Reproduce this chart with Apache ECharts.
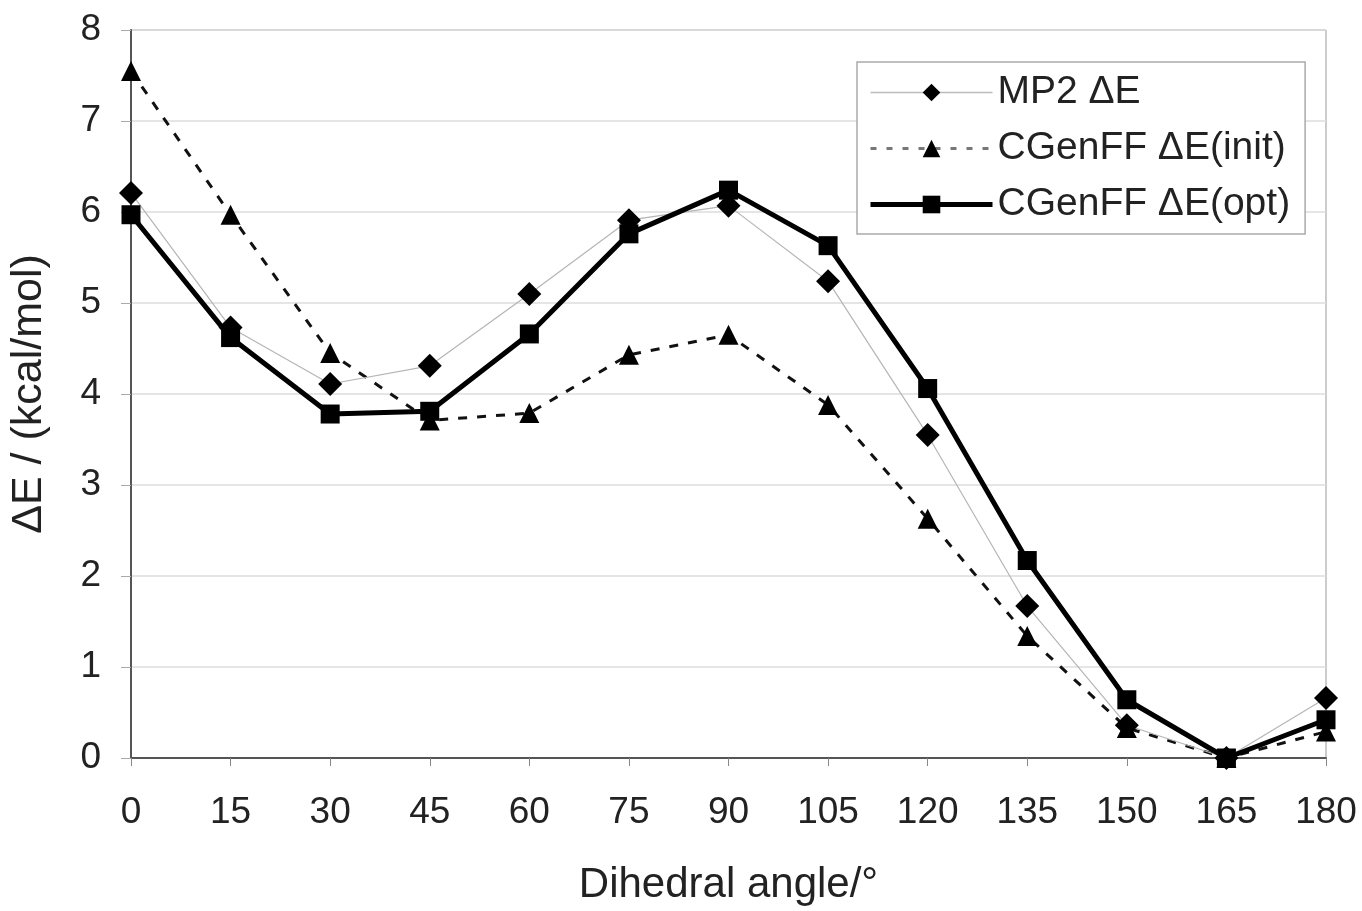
<!DOCTYPE html>
<html>
<head>
<meta charset="utf-8">
<script src="https://cdn.jsdelivr.net/npm/echarts@6/dist/echarts.min.js"></script>
<style>html,body{margin:0;padding:0;background:#fff}#chart{width:1362px;height:911px}</style>
</head>
<body>
<div id="chart"></div>
<script>
const angles = [0, 15, 30, 45, 60, 75, 90, 105, 120, 135, 150, 165, 180];
const mp2 = [6.21, 4.73, 4.11, 4.31, 5.10, 5.91, 6.07, 5.24, 3.55, 1.67, 0.36, 0.0, 0.66];
const cgenInit = [7.55, 5.97, 4.45, 3.71, 3.79, 4.43, 4.65, 3.88, 2.63, 1.34, 0.33, 0.0, 0.29];
const cgenOpt = [5.97, 4.62, 3.78, 3.81, 4.66, 5.76, 6.24, 5.63, 4.06, 2.17, 0.64, 0.0, 0.42];
const seriesNames = ['MP2 ΔE', 'CGenFF ΔE(init)', 'CGenFF ΔE(opt)'];
const xTitle = 'Dihedral angle/°';
const yTitle = 'ΔE / (kcal/mol)';

const pairs = ys => angles.map((a, i) => [a, ys[i]]);
const font = 'Liberation Sans, Arial, sans-serif';
const chart = echarts.init(document.getElementById('chart'));
chart.setOption({
  animation: false,
  backgroundColor: '#fff',
  textStyle: { fontFamily: font },
  grid: { left: 130, right: 36, top: 30, bottom: 153, show: true, borderColor: '#999', borderWidth: 1 },
  xAxis: {
    type: 'value', min: 0, max: 180, interval: 15,
    name: xTitle, nameLocation: 'middle', nameGap: 106,
    nameTextStyle: { fontSize: 42, color: '#222', fontFamily: font },
    axisLine: { show: true, lineStyle: { color: '#555', width: 2 } },
    axisTick: { show: true, length: 8, lineStyle: { color: '#888', width: 1 } },
    axisLabel: { fontSize: 37, color: '#222', margin: 36, fontFamily: font },
    splitLine: { show: false }
  },
  yAxis: {
    type: 'value', min: 0, max: 8, interval: 1,
    name: yTitle, nameLocation: 'middle', nameGap: 80, nameRotate: 90,
    nameTextStyle: { fontSize: 43, color: '#222', fontFamily: font },
    axisLine: { show: true, lineStyle: { color: '#555', width: 2 } },
    axisTick: { show: true, length: 10, lineStyle: { color: '#aaa', width: 1 } },
    axisLabel: { fontSize: 37, color: '#222', margin: 30, fontFamily: font },
    splitLine: { show: true, lineStyle: { color: '#ddd', width: 1.5 } }
  },
  legend: {
    orient: 'vertical', left: 857, top: 62,
    data: [
      { name: seriesNames[0], lineStyle: { color: '#bbb', width: 1.5 } },
      { name: seriesNames[1], lineStyle: { color: '#777', width: 3, type: [6, 10] } },
      { name: seriesNames[2], lineStyle: { color: '#000', width: 5 } }
    ],
    itemWidth: 122, itemHeight: 22, itemGap: 17,
    padding: [11, 15, 10, 11],
    borderColor: '#aaa', borderWidth: 1.5, backgroundColor: '#fff',
    textStyle: { fontSize: 39, color: '#222', fontFamily: font }
  },
  series: [
    {
      name: seriesNames[0], type: 'line', data: pairs(mp2),
      symbol: 'diamond', symbolSize: 24,
      itemStyle: { color: '#000' },
      lineStyle: { color: '#b5b5b5', width: 1.2 }, z: 3
    },
    {
      name: seriesNames[1], type: 'line', data: pairs(cgenInit),
      symbol: 'triangle', symbolSize: 20,
      itemStyle: { color: '#000' },
      lineStyle: { color: '#111', width: 3, type: [9, 10] }, z: 2
    },
    {
      name: seriesNames[2], type: 'line', data: pairs(cgenOpt),
      symbol: 'rect', symbolSize: 19,
      itemStyle: { color: '#000' },
      lineStyle: { color: '#000', width: 5 }, z: 4
    }
  ]
});
</script>
</body>
</html>
